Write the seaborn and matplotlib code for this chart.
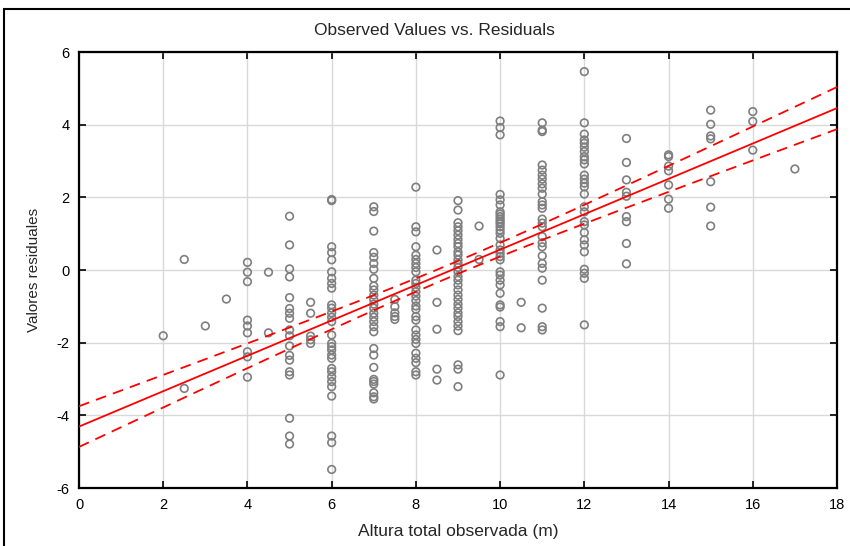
import numpy as np
import pandas as pd
import matplotlib
matplotlib.use("Agg")
import matplotlib.pyplot as plt
import seaborn as sns
from matplotlib.patches import Rectangle

# ---- data (observed height levels and residuals) ----
r_2 = [-1.81]
r_2_5 = [0.29, -3.26]
r_3 = [-1.54]
r_3_5 = [-0.80]
r_4 = [0.21, -0.06, -0.32, -1.38, -1.54, -1.73, -2.25, -2.39, -2.95]
r_4_5 = [-0.06, -1.73]
r_5 = [1.48, 0.69, 0.03, -0.19, -0.76, -1.06, -1.19, -1.33, -1.65, -1.81,
       -2.09, -2.35, -2.48, -2.80, -2.89, -4.08, -4.57, -4.79]
r_5_5 = [-0.89, -1.19, -1.82, -1.92, -2.02]
r_6 = [1.91, 1.94, 0.64, 0.48, 0.28, -0.05, -0.23, -0.37, -0.50, -0.96, -1.05,
       -1.18, -1.30, -1.42, -1.79, -2.02, -2.11, -2.20, -2.34, -2.43, -2.71,
       -2.80, -2.94, -3.07, -3.21, -3.47, -4.57, -4.75, -5.49]
r_7 = [1.74, 1.61, 1.07, 0.48, 0.35, 0.18, 0.02, -0.23, -0.44, -0.55, -0.69,
       -0.81, -0.94, -1.05, -1.19, -1.30, -1.42, -1.56, -1.70, -2.16, -2.34,
       -2.68, -3.01, -3.07, -3.14, -3.38, -3.49, -3.55]
r_7_5 = [-0.81, -1.01, -1.18, -1.28, -1.36]
r_8 = [2.28, 1.19, 1.05, 0.64, 0.41, 0.29, 0.18, 0.07, -0.05, -0.28, -0.37,
       -0.48, -0.60, -0.72, -0.84, -0.99, -1.08, -1.28, -1.38, -1.65, -1.79,
       -1.91, -2.02, -2.29, -2.43, -2.55, -2.80, -2.89]
r_8_5 = [0.55, -0.89, -1.63, -2.73, -3.03]
r_9 = [1.91, 1.65, 1.30, 1.19, 1.08, 0.96, 0.84, 0.73, 0.64, 0.50, 0.41, 0.28,
       0.18, 0.07, -0.05, -0.18, -0.28, -0.41, -0.55, -0.69, -0.81, -0.94,
       -1.05, -1.18, -1.28, -1.42, -1.54, -1.67, -2.61, -2.73, -3.21]
r_9_5 = [1.21, 0.29]
r_10 = [4.10, 3.92, 3.72, 2.08, 1.93, 1.79, 1.60, 1.54, 1.47, 1.40, 1.33, 1.27,
        1.19, 1.10, 1.01, 0.87, 0.69, 0.55, 0.46, 0.37, 0.28, -0.05, -0.14,
        -0.28, -0.41, -0.64, -0.96, -1.02, -1.42, -1.56, -2.89]
r_10_5 = [-0.89, -1.59]
r_11 = [4.05, 3.85, 3.81, 2.89, 2.75, 2.61, 2.50, 2.37, 2.25, 2.09, 1.88, 1.79,
        1.70, 1.40, 1.29, 1.19, 0.92, 0.75, 0.64, 0.39, 0.18, 0.05, -0.28,
        -1.05, -1.56, -1.65]
r_12 = [5.46, 4.05, 3.74, 3.58, 3.49, 3.38, 3.26, 3.12, 3.03, 2.92, 2.61, 2.50,
        2.39, 2.29, 2.09, 1.74, 1.60, 1.33, 1.24, 1.03, 0.83, 0.69, 0.50, 0.02,
        -0.09, -0.23, -1.51]
r_13 = [3.62, 2.96, 2.48, 2.14, 2.03, 1.47, 1.33, 0.73, 0.17]
r_14 = [3.17, 3.12, 2.86, 2.73, 2.34, 1.95, 1.70]
r_15 = [4.40, 4.01, 3.69, 3.61, 2.43, 1.73, 1.21]
r_16 = [4.36, 4.09, 3.30]
r_17 = [2.78]

levels = [2, 2.5, 3, 3.5, 4, 4.5, 5, 5.5, 6, 7, 7.5, 8, 8.5, 9, 9.5, 10, 10.5,
          11, 12, 13, 14, 15, 16, 17]
columns = [r_2, r_2_5, r_3, r_3_5, r_4, r_4_5, r_5, r_5_5, r_6, r_7, r_7_5, r_8,
           r_8_5, r_9, r_9_5, r_10, r_10_5, r_11, r_12, r_13, r_14, r_15, r_16, r_17]

x_ticks = [0, 2, 4, 6, 8, 10, 12, 14, 16, 18]
y_ticks = [-6, -4, -2, 0, 2, 4, 6]

title = "Observed Values vs. Residuals"
x_label = "Altura total observada (m)"
y_label = "Valores residuales"

df = pd.DataFrame({
    "obs": np.concatenate([[lv] * len(c) for lv, c in zip(levels, columns)]),
    "res": np.concatenate(columns),
})

# ---- figure ----
sns.set_theme(style="white")
plt.rcParams["font.family"] = ["Liberation Sans", "DejaVu Sans"]

fig = plt.figure(figsize=(8.5, 5.46), dpi=100)
ax = fig.add_axes([79 / 850, 1 - 488 / 546, (837 - 79) / 850, (488 - 52) / 546])

sns.scatterplot(data=df, x="obs", y="res", ax=ax, marker="o", s=30,
                facecolors="none", edgecolor="#7f7f7f", linewidth=1.2,
                legend=False, zorder=3)

# linear fit with 95% confidence band of the mean
x = df["obs"].to_numpy()
y = df["res"].to_numpy()
n = len(x)
slope, intercept = np.polyfit(x, y, 1)
xs = np.linspace(0, 18, 200)
yhat = intercept + slope * xs
resid = y - (intercept + slope * x)
s = np.sqrt(np.sum(resid ** 2) / (n - 2))
sxx = np.sum((x - x.mean()) ** 2)
half = 1.97 * s * np.sqrt(1 / n + (xs - x.mean()) ** 2 / sxx)

sns.lineplot(x=xs, y=yhat, ax=ax, color="#ff0000", linewidth=1.3, zorder=4)
ax.plot(xs, yhat + half, color="#ff0000", linewidth=1.3, dashes=(6, 4), zorder=4)
ax.plot(xs, yhat - half, color="#ff0000", linewidth=1.3, dashes=(6, 4), zorder=4)

ax.set_xlim(0, 18)
ax.set_ylim(-6, 6)
ax.set_xticks(x_ticks)
ax.set_yticks(y_ticks)
ax.set_xticklabels([str(t) for t in x_ticks], fontsize=10.5)
ax.set_yticklabels([str(t) for t in y_ticks], fontsize=10.5)
ax.grid(True, color="#d9d9d9", linewidth=1.0)
ax.set_axisbelow(True)
ax.tick_params(direction="in", length=5, width=1.2, colors="black",
               top=True, right=True, bottom=True, left=True, pad=7)
for sp in ax.spines.values():
    sp.set_color("black")
    sp.set_linewidth(1.6)

ax.set_title(title, fontsize=12.5, pad=12, x=(434 - 79) / 758)
ax.set_xlabel(x_label, fontsize=12.5, labelpad=9)
ax.set_ylabel(y_label, fontsize=11, labelpad=11)

# outer frame of the figure
fig.patches.append(Rectangle((4 / 850, -0.1), 1.2, 1 - 9 / 546 + 0.1,
                             transform=fig.transFigure, fill=False,
                             edgecolor="black", linewidth=1.5))

fig.savefig("out.png", dpi=100)
